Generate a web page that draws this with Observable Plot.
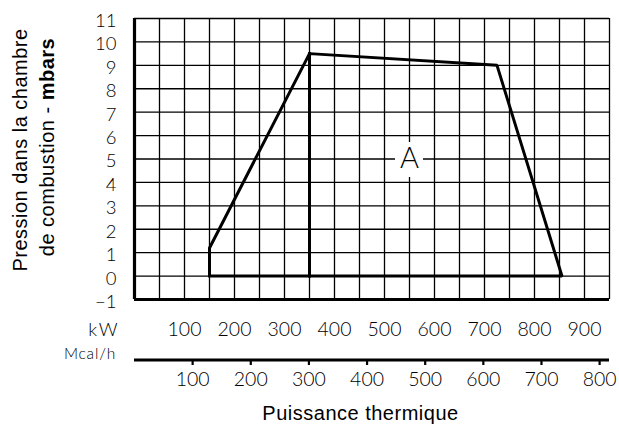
<!DOCTYPE html>
<html><head><meta charset="utf-8">
<script src="https://cdn.jsdelivr.net/npm/d3@7"></script>
<script src="https://cdn.jsdelivr.net/npm/@observablehq/plot@0.6"></script>
<style>
html,body{margin:0;padding:0;background:#fff;}
</style></head><body><div id="chart"></div>
<script>
// Tick labels
const kwTicks = [100, 200, 300, 400, 500, 600, 700, 800, 900];
const mcalTicks = [100, 200, 300, 400, 500, 600, 700, 800];
const mbarTicks = [-1, 0, 1, 2, 3, 4, 5, 6, 7, 8, 9, 10, 11];
const kwGrid = [0, 50, 100, 150, 200, 250, 300, 350, 400, 450, 500, 550, 600, 650, 700, 750, 800, 850, 900, 950];
// Working field outline (kW, mbar)
const outlineKw = [150, 150, 350, 725, 855, 150];
const outlineMbar = [0, 1.2, 9.5, 9.0, 0, 0];
const dividerKw = [350, 350];
const dividerMbar = [0, 9.5];
// Zone label
const zoneLabels = ["A"];
const zoneKw = [550];
const zoneMbar = [5];
// Unit labels and titles
const unitLabels = ["kW", "Mcal/h"];
const xTitle = "Puissance thermique";
const yTitle1 = "Pression dans la chambre";
const yTitle2a = "de combustion - ";
const yTitle2b = "mbars";
const KW_TO_MCAL = 0.86;

const outline = outlineKw.map((kw, i) => ({kw, mbar: outlineMbar[i]}));
const divider = dividerKw.map((kw, i) => ({kw, mbar: dividerMbar[i]}));
const zone = zoneLabels.map((label, i) => ({label, kw: zoneKw[i], mbar: zoneMbar[i]}));

const tickFont = "Lato, Roboto, 'Liberation Sans', sans-serif";
const titleFont = "'Liberation Sans', Arial, sans-serif";

const chart = Plot.plot({
  width: 619, height: 426,
  marginLeft: 134, marginRight: 10, marginTop: 18, marginBottom: 127,
  x: {domain: [0, 950]},
  y: {domain: [-1, 11]},
  style: {background: "white", color: "black", fontFamily: tickFont, overflow: "visible"},
  marks: [
    Plot.ruleX(kwGrid, {x: d => d, stroke: "black", strokeWidth: 1.3}),
    Plot.ruleY(mbarTicks, {y: d => d, stroke: "black", strokeWidth: 1.3}),
    Plot.ruleX([0], {x: d => d, stroke: "black", strokeWidth: 3.2}),
    Plot.ruleY([-1], {y: d => d, stroke: "black", strokeWidth: 3.2}),
    Plot.rect(zone, {x1: "kw", x2: "kw", y1: "mbar", y2: "mbar",
      insetLeft: -14, insetRight: -14, insetTop: -16.5, insetBottom: -18.5, fill: "white"}),
    Plot.line(outline, {x: "kw", y: "mbar", stroke: "black", strokeWidth: 3, strokeLinejoin: "miter", strokeLinecap: "square"}),
    Plot.line(divider, {x: "kw", y: "mbar", stroke: "black", strokeWidth: 3, strokeLinecap: "square"}),
    Plot.text(zone, {x: "kw", y: "mbar", text: "label", fontSize: 29, fontWeight: 300, fontFamily: tickFont}),
    Plot.axisY(mbarTicks, {label: null, tickSize: 0, tickPadding: 18, dy: 2.5, fontSize: 18.5, fontWeight: 300, fontFamily: tickFont}),
    Plot.axisX(kwTicks, {label: null, tickSize: 0, tickPadding: 22.5, fontSize: 19.5, fontWeight: 300, fontFamily: tickFont}),
    // secondary axis in Mcal/h
    Plot.ruleY([-1], {y: d => d, dy: 60.5, stroke: "black", strokeWidth: 3}),
    Plot.tickX(mcalTicks, {x: d => d / KW_TO_MCAL, insetTop: 275, dy: 66, stroke: "black", strokeWidth: 2.2}),
    Plot.text(mcalTicks, {x: d => d / KW_TO_MCAL, text: d => String(d), frameAnchor: "bottom", lineAnchor: "top", dy: 73, fontSize: 19.5, fontWeight: 300, fontFamily: tickFont}),
    // unit labels
    Plot.text([unitLabels[0]], {text: d => d, frameAnchor: "bottom-left", textAnchor: "end", lineAnchor: "top", dx: -15, dy: 23, fontSize: 18.5, fontWeight: 300, fontFamily: tickFont}),
    Plot.text([unitLabels[1]], {text: d => d, frameAnchor: "bottom-left", textAnchor: "end", lineAnchor: "top", dx: -18.5, dy: 48.5, fontSize: 15.5, fontWeight: 300, fontFamily: tickFont}),
    // titles
    Plot.text([xTitle], {text: d => d, frameAnchor: "bottom", textAnchor: "middle", lineAnchor: "bottom", dx: -11.5, dy: 120.5, fontSize: 20, fontFamily: titleFont}),
    Plot.text([yTitle1], {text: d => d, frameAnchor: "left", textAnchor: "middle", rotate: -90, lineAnchor: "bottom", dx: -108, dy: -9, fontSize: 20, fontFamily: titleFont}),
    Plot.text([yTitle2a + yTitle2b], {text: d => d, frameAnchor: "left", textAnchor: "middle", rotate: -90, lineAnchor: "bottom", dx: -80.5, dy: -12, fontSize: 20, fontFamily: titleFont})
  ]
});

const root = d3.select(chart);
root.selectAll("text").each(function () {
  const t = this.textContent;
  if (t === unitLabels[0]) this.setAttribute("letter-spacing", "2");
  if (t === unitLabels[1]) this.setAttribute("letter-spacing", "0.8");
  if (t === xTitle || t === yTitle1) this.setAttribute("letter-spacing", "0.5");
  if (t === yTitle2a + yTitle2b) {
    this.setAttribute("letter-spacing", "0.5");
    const el = d3.select(this);
    el.text(null);
    el.append("tspan").text(yTitle2a);
    el.append("tspan").attr("font-weight", "bold").text(yTitle2b);
  }
});

document.getElementById("chart").appendChild(chart);
</script>
</body></html>
